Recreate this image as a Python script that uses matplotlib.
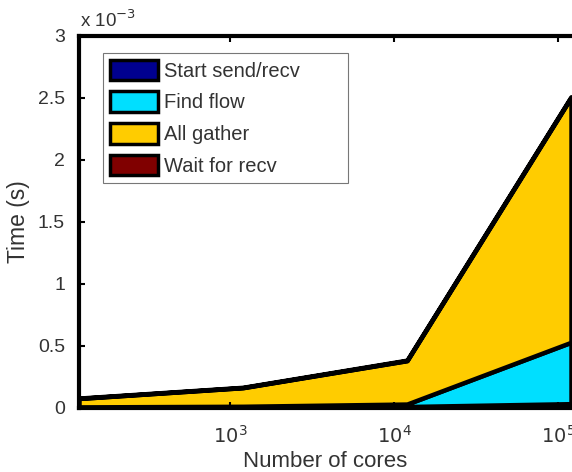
"""Stacked area chart of communication time per phase vs. number of cores."""

import matplotlib
matplotlib.use("Agg")
import matplotlib.pyplot as plt
from matplotlib.ticker import FixedLocator, FuncFormatter, NullLocator
from matplotlib.patches import Patch

# data (time in seconds)
cores = [120, 1200, 12000, 120000]
start_send = [0.005e-3, 0.006e-3, 0.012e-3, 0.035e-3]
find_flow = [0.004e-3, 0.008e-3, 0.020e-3, 0.495e-3]
all_gather = [0.068e-3, 0.150e-3, 0.350e-3, 1.975e-3]
wait_recv = [0.003e-3, 0.003e-3, 0.004e-3, 0.005e-3]

labels = ["Start send/recv", "Find flow", "All gather", "Wait for recv"]
colors = ["#00008F", "#00DFFF", "#FFCC00", "#800000"]
y_ticks = [0, 0.5e-3, 1e-3, 1.5e-3, 2e-3, 2.5e-3, 3e-3]
x_ticks = [1e3, 1e4, 1e5]

TEXT = "#333333"


def main():
    plt.rcParams["font.family"] = ["Liberation Sans", "DejaVu Sans"]
    fig = plt.figure(figsize=(5.72, 4.72), dpi=100)
    ax = fig.add_axes([79 / 572, 64 / 472, 492 / 572, 372 / 472])

    ax.stackplot(cores, start_send, find_flow, all_gather, wait_recv,
                 colors=colors, edgecolor="black", linewidth=3.2)

    ax.set_xscale("log")
    ax.set_xlim(cores[0], cores[-1])
    ax.set_ylim(0, 3e-3)

    ax.xaxis.set_major_locator(FixedLocator(x_ticks))
    ax.xaxis.set_minor_locator(NullLocator())
    ax.set_xticklabels([r"$10^{3}$", r"$10^{4}$", r"$10^{5}$"])
    ax.set_yticks(y_ticks)
    ax.yaxis.set_major_formatter(FuncFormatter(lambda v, p: f"{v * 1e3:g}"))

    ax.tick_params(direction="in", length=4, width=1.5, top=True,
                   labelsize=14, labelcolor=TEXT, pad=10)
    ax.tick_params(axis="x", pad=12)
    for side in ["left", "bottom", "top"]:
        ax.spines[side].set_linewidth(3)
    ax.spines["right"].set_visible(False)

    ax.set_xlabel("Number of cores", fontsize=16, color=TEXT, labelpad=3)
    ax.set_ylabel("Time (s)", fontsize=16.5, color=TEXT, labelpad=6)
    fig.text(80 / 572, 1 - 20 / 472, r"x 10$^{-3}$", fontsize=13.5,
             color=TEXT, va="center", ha="left")

    handles = [Patch(facecolor=c, edgecolor="black", linewidth=2.5)
               for c in colors]
    leg = ax.legend(handles, labels, loc="upper left", mode="expand",
                    bbox_to_anchor=(0.049, 0.955, 0.498, 0.0), fontsize=14.5,
                    frameon=True, fancybox=False, handlelength=2.4,
                    handleheight=1.2, labelspacing=0.52, handletextpad=0.25,
                    borderpad=0.35, borderaxespad=0)
    leg.get_frame().set_edgecolor("#555555")
    leg.get_frame().set_linewidth(0.8)
    for t in leg.get_texts():
        t.set_color(TEXT)

    fig.savefig("out.png", dpi=100)


if __name__ == "__main__":
    main()
